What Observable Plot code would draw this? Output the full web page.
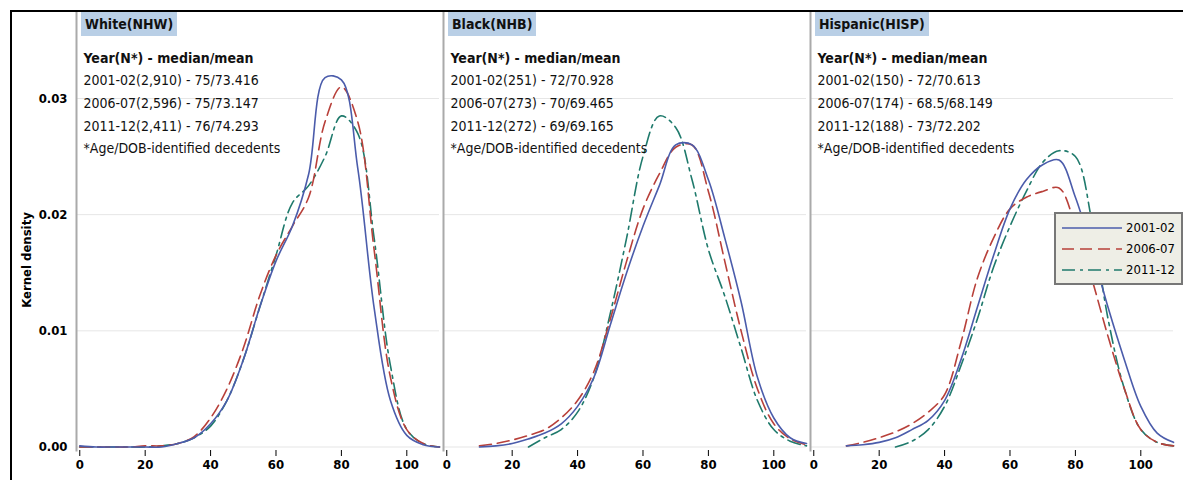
<!DOCTYPE html>
<html><head><meta charset="utf-8">
<script src="https://cdn.jsdelivr.net/npm/d3@7"></script>
<script src="https://cdn.jsdelivr.net/npm/@observablehq/plot@0.6"></script>
<style>
body{margin:0;background:#fff;font-family:"DejaVu Sans Condensed","Liberation Sans",Arial,sans-serif;}
#wrap{position:relative;width:1183px;height:480px;overflow:hidden;}
#border{position:absolute;left:10px;top:10px;width:1180px;height:480px;border:2px solid #000;box-sizing:border-box;pointer-events:none;}
.hdr{position:absolute;top:12px;background:#b9cfe6;font-weight:bold;font-size:14px;padding:4px 4px;color:#111;}
#legend{position:absolute;left:1054px;top:212px;background:#eeeee6;border:2px solid #777;padding:3px 6px;font-size:13px;white-space:nowrap;}
#legend div{display:flex;align-items:center;height:21px;}
#legend svg{margin-right:4px;}
#ylab{position:absolute;left:26px;top:260px;transform:translate(-50%,-50%) rotate(-90deg);font-weight:bold;font-size:13px;white-space:nowrap;}
</style></head>
<body><div id="wrap"><div id="chart"></div><div id="ylab">Kernel density</div><div id="border"></div></div>
<script>
const groups = ["White(NHW)", "Black(NHB)", "Hispanic(HISP)"];
const years = ["2001-02", "2006-07", "2011-12"];
const ages = d3.range(0, 111, 5);
const notes = [
  ["Year(N*) - median/mean", "2001-02(2,910) - 75/73.416", "2006-07(2,596) - 75/73.147", "2011-12(2,411) - 76/74.293", "*Age/DOB-identified decedents"],
  ["Year(N*) - median/mean", "2001-02(251) - 72/70.928", "2006-07(273) - 70/69.465", "2011-12(272) - 69/69.165", "*Age/DOB-identified decedents"],
  ["Year(N*) - median/mean", "2001-02(150) - 72/70.613", "2006-07(174) - 68.5/68.149", "2011-12(188) - 73/72.202", "*Age/DOB-identified decedents"]
];
const whiteY1 = [0.0001,0,0,0,0,0,0.0003,0.0008,0.002,0.004,0.0075,0.012,0.016,0.019,0.0235,0.0318,0.0316,0.024,0.012,0.004,0.001,0.0002,0];
const whiteY2 = [0,0,0,0,0.0001,0.0001,0.0003,0.0009,0.0025,0.005,0.0085,0.013,0.0165,0.019,0.0215,0.028,0.031,0.028,0.017,0.006,0.0015,0.0003,0];
const whiteY3 = [0,0,0,0,0,0.0001,0.0003,0.0008,0.0018,0.004,0.0075,0.012,0.0165,0.021,0.0225,0.025,0.0285,0.027,0.018,0.007,0.0015,0.0003,0];
const blackY1 = [null,null,0,0.0001,0.0003,0.0007,0.0012,0.002,0.0035,0.006,0.0105,0.015,0.019,0.0225,0.026,0.026,0.023,0.018,0.0125,0.006,0.0025,0.0008,0.0003];
const blackY2 = [null,null,0.0001,0.0003,0.0006,0.001,0.0015,0.0025,0.004,0.0065,0.011,0.016,0.0205,0.0235,0.0258,0.026,0.022,0.016,0.010,0.005,0.002,0.0007,0.0002];
const blackY3 = [null,null,null,null,null,0,0.0008,0.0015,0.003,0.006,0.0115,0.018,0.025,0.0285,0.0275,0.023,0.017,0.013,0.0085,0.004,0.0015,0.0005,0.0001];
const hispY1 = [null,null,0.0001,0.0002,0.0004,0.0008,0.0015,0.0023,0.004,0.0075,0.012,0.0165,0.0205,0.023,0.0243,0.0247,0.0215,0.017,0.012,0.0075,0.0035,0.0012,0.0004];
const hispY2 = [null,null,0.0001,0.0004,0.0008,0.0013,0.002,0.003,0.0045,0.009,0.0145,0.018,0.0205,0.0215,0.022,0.0223,0.019,0.0145,0.0095,0.005,0.0015,0.0004,0.0001];
const hispY3 = [null,null,null,null,null,0,0.0005,0.0015,0.0035,0.007,0.011,0.0155,0.019,0.022,0.0245,0.0255,0.025,0.0195,0.011,0.005,0.0015,0.0004,0.0001];

const colors = ["#4b5cab", "#b8403a", "#1f7a6c"];
const dashes = ["none", "12,6", "13,5,3,5"];
const series = [[whiteY1, whiteY2, whiteY3], [blackY1, blackY2, blackY3], [hispY1, hispY2, hispY3]];

const rows = [];
series.forEach((s, g) => s.forEach((ys, k) => ys.forEach((v, i) => {
  rows.push({group: groups[g], year: years[k], age: ages[i], dens: v == null ? NaN : v});
})));
const noteRows = groups.map((g, i) => ({group: g, text: notes[i].join("\n")}));

const chart = Plot.plot({
  width: 1183, height: 480,
  marginLeft: 75, marginRight: 8, marginTop: 12, marginBottom: 30,
  style: {fontFamily: '"DejaVu Sans Condensed","Liberation Sans",Arial,sans-serif', fontSize: "13px"},
  fx: {domain: groups, padding: 0.01, axis: null},
  x: {domain: [-1, 110], ticks: [0, 20, 40, 60, 80, 100], label: null, tickSize: 6},
  y: {domain: [-0.0003, 0.0374], ticks: [0, 0.01, 0.02, 0.03], tickFormat: ".2f", label: null, grid: true, tickSize: 0},
  marks: [
    Plot.frame({anchor: "left", stroke: "#aaa", strokeWidth: 2}),
    Plot.line(rows.filter(d => d.year === years[2]), {fx: "group", x: "age", y: "dens", stroke: colors[2], strokeWidth: 1.6, strokeDasharray: dashes[2], curve: "catmull-rom"}),
    Plot.line(rows.filter(d => d.year === years[1]), {fx: "group", x: "age", y: "dens", stroke: colors[1], strokeWidth: 1.6, strokeDasharray: dashes[1], curve: "catmull-rom"}),
    Plot.line(rows.filter(d => d.year === years[0]), {fx: "group", x: "age", y: "dens", stroke: colors[0], strokeWidth: 1.6, curve: "catmull-rom"}),
    Plot.text(noteRows, {fx: "group", text: "text", frameAnchor: "top-left", dx: 7, dy: 34, lineHeight: 1.62, fontSize: 14, fill: "#111", textAnchor: "start"})
  ]
});
chart.querySelectorAll("[aria-label='x-axis tick label'] text, [aria-label='y-axis tick label'] text").forEach(t => { t.style.fontWeight = "bold"; t.setAttribute("font-size", 13); });
chart.querySelectorAll("[aria-label='text'] tspan").forEach((t, i) => { if (i % 5 === 0) t.style.fontWeight = "bold"; });
document.getElementById("chart").appendChild(chart);

// panel headers
const fx = chart.scale("fx");
const wrap = document.getElementById("wrap");
groups.forEach(g => {
  const d = document.createElement("div");
  d.className = "hdr";
  d.textContent = g;
  d.style.left = (fx.apply(g) + 5) + "px";
  wrap.appendChild(d);
});
// legend
const lg = document.createElement("div");
lg.id = "legend";
years.forEach((y, i) => {
  const r = document.createElement("div");
  r.innerHTML = `<svg width="60" height="10"><line x1="0" x2="60" y1="5" y2="5" stroke="${colors[i]}" stroke-width="1.6" stroke-dasharray="${dashes[i]}"/></svg>${y}`;
  lg.appendChild(r);
});
wrap.appendChild(lg);
</script></body></html>
